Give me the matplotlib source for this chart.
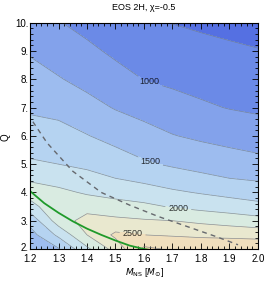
import numpy as np
import matplotlib.pyplot as plt
from matplotlib.ticker import MultipleLocator
from matplotlib.transforms import ScaledTranslation

plt.rcParams['font.family'] = ['Liberation Sans', 'DejaVu Sans']

# grid
M_ns = [1.2, 1.3, 1.4, 1.5, 1.6, 1.7, 1.8, 1.9, 2.0]
Q_vals = [2, 2.5, 3, 3.5, 4, 4.5, 5, 6, 7, 8, 9, 10]
Z = [
    [1250, 1480, 1950, 2350, 2800, 2720, 2700, 2700, 2700],
    [1397, 1806, 2250, 2550, 2500, 2477, 2452, 2436, 2413],
    [1583, 2122, 2344, 2306, 2273, 2250, 2197, 2143, 2088],
    [1882, 2250, 2154, 2096, 2053, 1981, 1923, 1875, 1821],
    [2140, 2058, 1971, 1917, 1860, 1788, 1732, 1679, 1630],
    [1953, 1897, 1824, 1750, 1687, 1617, 1554, 1500, 1467],
    [1784, 1750, 1702, 1631, 1531, 1469, 1420, 1375, 1332],
    [1609, 1589, 1510, 1417, 1339, 1260, 1207, 1161, 1118],
    [1464, 1427, 1330, 1235, 1164, 1092, 1034, 990, 962],
    [1345, 1266, 1179, 1088, 995, 953, 918, 888, 861],
    [1226, 1137, 1051, 956, 887, 849, 816, 787, 760],
    [1107, 1012, 925, 848, 780, 745, 714, 686, 660],
]
levels = [0, 750, 1000, 1250, 1500, 1750, 2000, 2250, 2500, 2750, 4000]
band_colors = ['#5570e2', '#6b8ae7', '#83a2eb', '#9dbcef', '#b5d3f1',
               '#c9e2ef', '#d9ebe1', '#e9e8cf', '#f0dfbd', '#f3d6a8']
plain_levels = [750, 1250, 1750, 2250, 2750]
label_levels = [1000, 1500, 2000, 2500]
label_pos = [(1.62, 7.9), (1.62, 5.0), (1.72, 3.41), (1.56, 2.55)]

# dashed curve
dash_M = [1.21, 1.26, 1.35, 1.45, 1.55, 1.65, 1.75, 1.85, 1.93]
dash_Q = [6.5, 5.75, 4.75, 4.0, 3.55, 3.15, 2.8, 2.45, 2.15]
# green curve
green_M = [1.2, 1.25, 1.3, 1.35, 1.4, 1.45, 1.5, 1.55, 1.6, 1.63]
green_Q = [4.05, 3.62, 3.28, 2.98, 2.72, 2.5, 2.3, 2.12, 2.0, 1.95]

xticks = [1.2, 1.3, 1.4, 1.5, 1.6, 1.7, 1.8, 1.9, 2.0]
xticklabels = ['1.2', '1.3', '1.4', '1.5', '1.6', '1.7', '1.8', '1.9', '2.0']
yticks = [2, 3, 4, 5, 6, 7, 8, 9, 10]
yticklabels = ['2.', '3.', '4.', '5.', '6.', '7.', '8.', '9.', '10.']

fig = plt.figure(figsize=(2.66, 2.82), dpi=100)
ax = fig.add_axes([0.1128, 0.117, 0.857, 0.8025])

MM, QQ = np.meshgrid(M_ns, Q_vals)
ZZ = np.array(Z, dtype=float)
ax.contourf(MM, QQ, ZZ, levels=levels, colors=band_colors)
ax.contour(MM, QQ, ZZ, levels=plain_levels, colors='#6f7b8c',
           linewidths=0.5, alpha=0.8)
cs = ax.contour(MM, QQ, ZZ, levels=label_levels, colors='#6f7b8c',
                linewidths=0.5, alpha=0.8)
labels = ax.clabel(cs, manual=label_pos, inline=True, fontsize=6.5,
                   colors='black', fmt='%d', inline_spacing=3)
for t in labels:
    t.set_rotation(0)

ax.plot(dash_M, dash_Q, color='#66696e', lw=1.0, dashes=(3.5, 3))
ax.plot(green_M, green_Q, color='#1f9a2a', lw=1.3)

ax.set_xlim(1.2, 2.0)
ax.set_ylim(2, 10)
ax.set_xticks(xticks)
ax.set_xticklabels(xticklabels)
ax.set_yticks(yticks)
ax.set_yticklabels(yticklabels)
ax.xaxis.set_minor_locator(MultipleLocator(0.02))
ax.yaxis.set_minor_locator(MultipleLocator(0.2))
ax.tick_params(which='both', direction='in', top=True, right=True,
               width=0.6, labelsize=7)
ax.tick_params(axis='x', pad=3.5)
ax.tick_params(axis='y', pad=1)
ax.tick_params(which='major', length=4)
ax.tick_params(which='minor', length=2)
for s in ax.spines.values():
    s.set_linewidth(0.8)

# nudge the lowest y label up a little, as in the reference
low = ax.get_yticklabels()[0]
low.set_transform(low.get_transform() + ScaledTranslation(0, 2 / 100, fig.dpi_scale_trans))

fig.text(0.54, 0.975, 'EOS 2H, χ=-0.5', ha='center', va='center', fontsize=6.5)
fig.text(0.545, 0.035, r'$M_{\rm NS}$ [$M_{\odot}$]', ha='center', va='center',
         fontsize=6.5)
fig.text(0.022, 0.515, 'Q', rotation=90, ha='center', va='center', fontsize=7)

fig.savefig('out.png', dpi=100)
